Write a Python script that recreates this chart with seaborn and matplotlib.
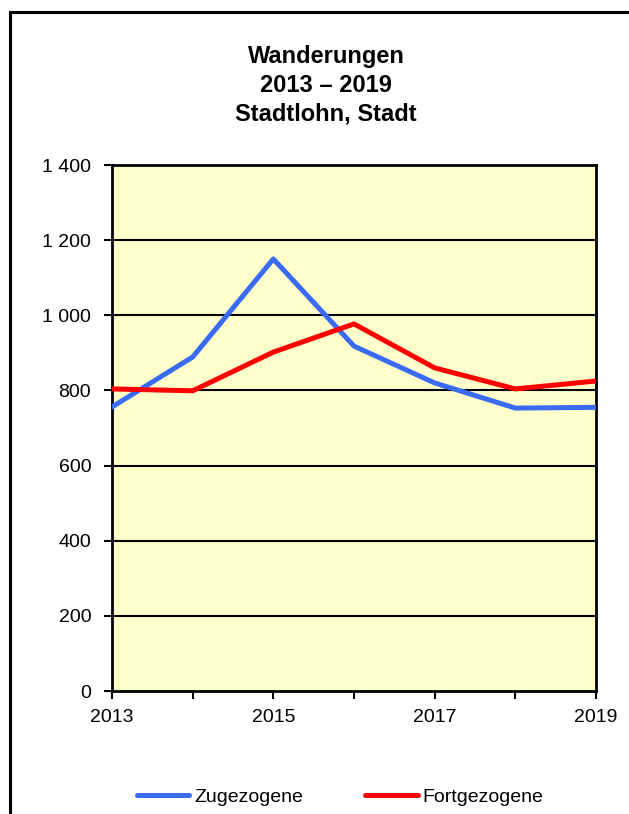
import pandas as pd
import numpy as np
import seaborn as sns
import matplotlib.pyplot as plt
from matplotlib.patches import Rectangle
from matplotlib.ticker import FixedLocator

# data
years = [2013, 2014, 2015, 2016, 2017, 2018, 2019]
zugezogene = [756, 889, 1150, 918, 820, 753, 755]
fortgezogene = [804, 799, 902, 977, 860, 804, 825]
y_ticks = [0, 200, 400, 600, 800, 1000, 1200, 1400]
y_labels = ['0', '200', '400', '600', '800', '1 000', '1 200', '1 400']
x_labels = ['2013', '', '2015', '', '2017', '', '2019']
title_lines = ['Wanderungen', '2013 \u2013 2019', 'Stadtlohn, Stadt']

df = pd.DataFrame({
    'Jahr': years * 2,
    'Personen': zugezogene + fortgezogene,
    'Art': ['Zugezogene'] * len(years) + ['Fortgezogene'] * len(years),
})

sns.set_style('white')
plt.rcParams['font.family'] = ['Liberation Sans', 'DejaVu Sans']
plt.rcParams['text.color'] = 'black'

fig = plt.figure(figsize=(6.29, 8.14), dpi=100)
ax = fig.add_axes([112 / 629, 1 - 691 / 814, (596 - 112) / 629, (691 - 165) / 814])
ax.set_facecolor('#FFFFCC')

# outer frame (right and bottom edges lie outside the picture)
fig.patches.append(Rectangle((9.5 / 629, -0.1), 1.2, 1 - 11.5 / 814 + 0.1,
                             transform=fig.transFigure, fill=False,
                             edgecolor='black', linewidth=2.2))

for yv in y_ticks[1:-1]:
    ax.axhline(yv, color='black', linewidth=1.5, zorder=1)

sns.lineplot(data=df, x='Jahr', y='Personen', hue='Art',
             palette={'Zugezogene': '#3A6BF5', 'Fortgezogene': '#FF0000'},
             linewidth=3.6, ax=ax, zorder=3)

ax.set_xlim(2013, 2019)
ax.set_ylim(0, 1400)
ax.xaxis.set_major_locator(FixedLocator(years))
ax.set_xticklabels(x_labels)
ax.set_yticks(y_ticks)
ax.set_yticklabels(y_labels)
ax.set_xlabel('')
ax.set_ylabel('')
ax.tick_params(axis='both', direction='out', length=6, width=1.5,
               color='black', labelsize=14, labelcolor='black')
ax.tick_params(axis='x', pad=7, bottom=True)
ax.tick_params(axis='y', pad=9, left=True)
for s in ax.spines.values():
    s.set_color('black')
    s.set_linewidth(2)

leg = ax.legend(loc='center', bbox_to_anchor=(340 / 629, 17 / 814),
                bbox_transform=fig.transFigure, ncol=2, frameon=False,
                fontsize=14, handlelength=2.7, handletextpad=0.25,
                columnspacing=3.2)
for t in leg.get_texts():
    t.set_color('black')

baselines = [63, 92, 120]
for line, b in zip(title_lines, baselines):
    fig.text(326 / 629, 1 - b / 814, line, ha='center', va='baseline',
             fontsize=17, fontweight='bold', color='black')

fig.savefig('out.png', dpi=100)
